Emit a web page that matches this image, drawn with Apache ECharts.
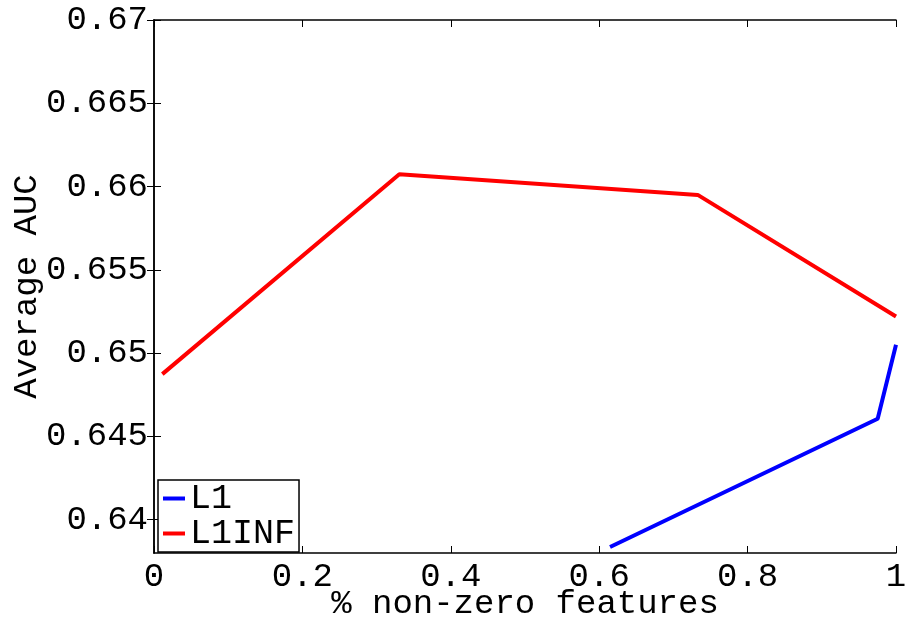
<!DOCTYPE html>
<html>
<head>
<meta charset="utf-8">
<script src="https://cdn.jsdelivr.net/npm/echarts@6/dist/echarts.min.js"></script>
<style>
  html, body { margin: 0; padding: 0; background: #fff; }
  #chart { width: 907px; height: 619px; }
</style>
</head>
<body>
<div id="chart"></div>
<script>
// data
var l1X = [0.6146, 0.9753, 1.0];
var l1Y = [0.63836, 0.64606, 0.6505];
var l1infX = [0.0112, 0.3306, 0.7328, 1.0];
var l1infY = [0.64874, 0.66074, 0.6595, 0.6522];
var yTicks = [0.64, 0.645, 0.65, 0.655, 0.66, 0.665, 0.67];

var FONT = 'Liberation Mono';

function pairs(xs, ys) {
    var out = [];
    for (var i = 0; i < xs.length; i++) out.push([xs[i], ys[i]]);
    return out;
}

var chart = echarts.init(document.getElementById('chart'));
var axisLine = { show: true, lineStyle: { color: '#000', width: 1.5 } };
var tick = { show: true, inside: true, length: 7, lineStyle: { color: '#000', width: 1 } };

var option = {
    backgroundColor: '#fff',
    animation: false,
    textStyle: { fontFamily: FONT, color: '#000' },
    grid: { left: 154, right: 11, top: 20, bottom: 66, outerBoundsMode: 'none', containLabel: false },
    legend: {
        left: 158, top: 480,
        orient: 'vertical',
        backgroundColor: '#fff',
        borderColor: '#000',
        borderWidth: 1.5,
        borderRadius: 0,
        padding: [1, 4, 1, 5],
        itemGap: 0,
        itemWidth: 22,
        itemHeight: 4,
        icon: 'rect',
        textStyle: { fontFamily: FONT, fontSize: 35, color: '#000', lineHeight: 34 },
        data: ['L1', 'L1INF']
    },
    xAxis: [{
        type: 'value', min: 0, max: 1, interval: 0.2,
        name: '% non-zero features', nameLocation: 'middle', nameGap: 34, nameMoveOverlap: false,
        nameTextStyle: { fontFamily: FONT, fontSize: 34, color: '#000' },
        axisLine: axisLine, axisTick: tick, splitLine: { show: false },
        axisLabel: { fontFamily: FONT, fontSize: 34, color: '#000', margin: 7,
            formatter: function (v) { return String(parseFloat(v.toFixed(1))); } }
    }, {
        type: 'value', min: 0, max: 1, interval: 0.2, position: 'top',
        axisLine: axisLine, axisTick: tick, axisLabel: { show: false }, splitLine: { show: false }
    }],
    yAxis: [{
        type: 'value', min: 0.638, max: 0.67,
        name: 'Average AUC', nameLocation: 'middle', nameGap: 110, nameRotate: 90, nameMoveOverlap: false,
        nameTextStyle: { fontFamily: FONT, fontSize: 34, color: '#000' },
        axisLine: axisLine,
        axisTick: { show: true, inside: true, length: 7, lineStyle: { color: '#000', width: 1 }, customValues: yTicks },
        splitLine: { show: false },
        axisLabel: { fontFamily: FONT, fontSize: 34, color: '#000', margin: 6, customValues: yTicks,
            formatter: function (v) { return String(parseFloat(v.toFixed(3))); } }
    }, {
        type: 'value', min: 0.638, max: 0.67, position: 'right',
        axisLine: axisLine,
        axisTick: { show: true, inside: true, length: 7, lineStyle: { color: '#000', width: 1 }, customValues: yTicks },
        axisLabel: { show: false }, splitLine: { show: false }
    }],
    series: [{
        name: 'L1', type: 'line', data: pairs(l1X, l1Y),
        showSymbol: false, symbol: 'none',
        lineStyle: { color: '#0000ff', width: 4 }, itemStyle: { color: '#0000ff' }
    }, {
        name: 'L1INF', type: 'line', data: pairs(l1infX, l1infY),
        showSymbol: false, symbol: 'none',
        lineStyle: { color: '#ff0000', width: 4 }, itemStyle: { color: '#ff0000' }
    }]
};
chart.setOption(option);
window.addEventListener('resize', chart.resize);
</script>
</body>
</html>
